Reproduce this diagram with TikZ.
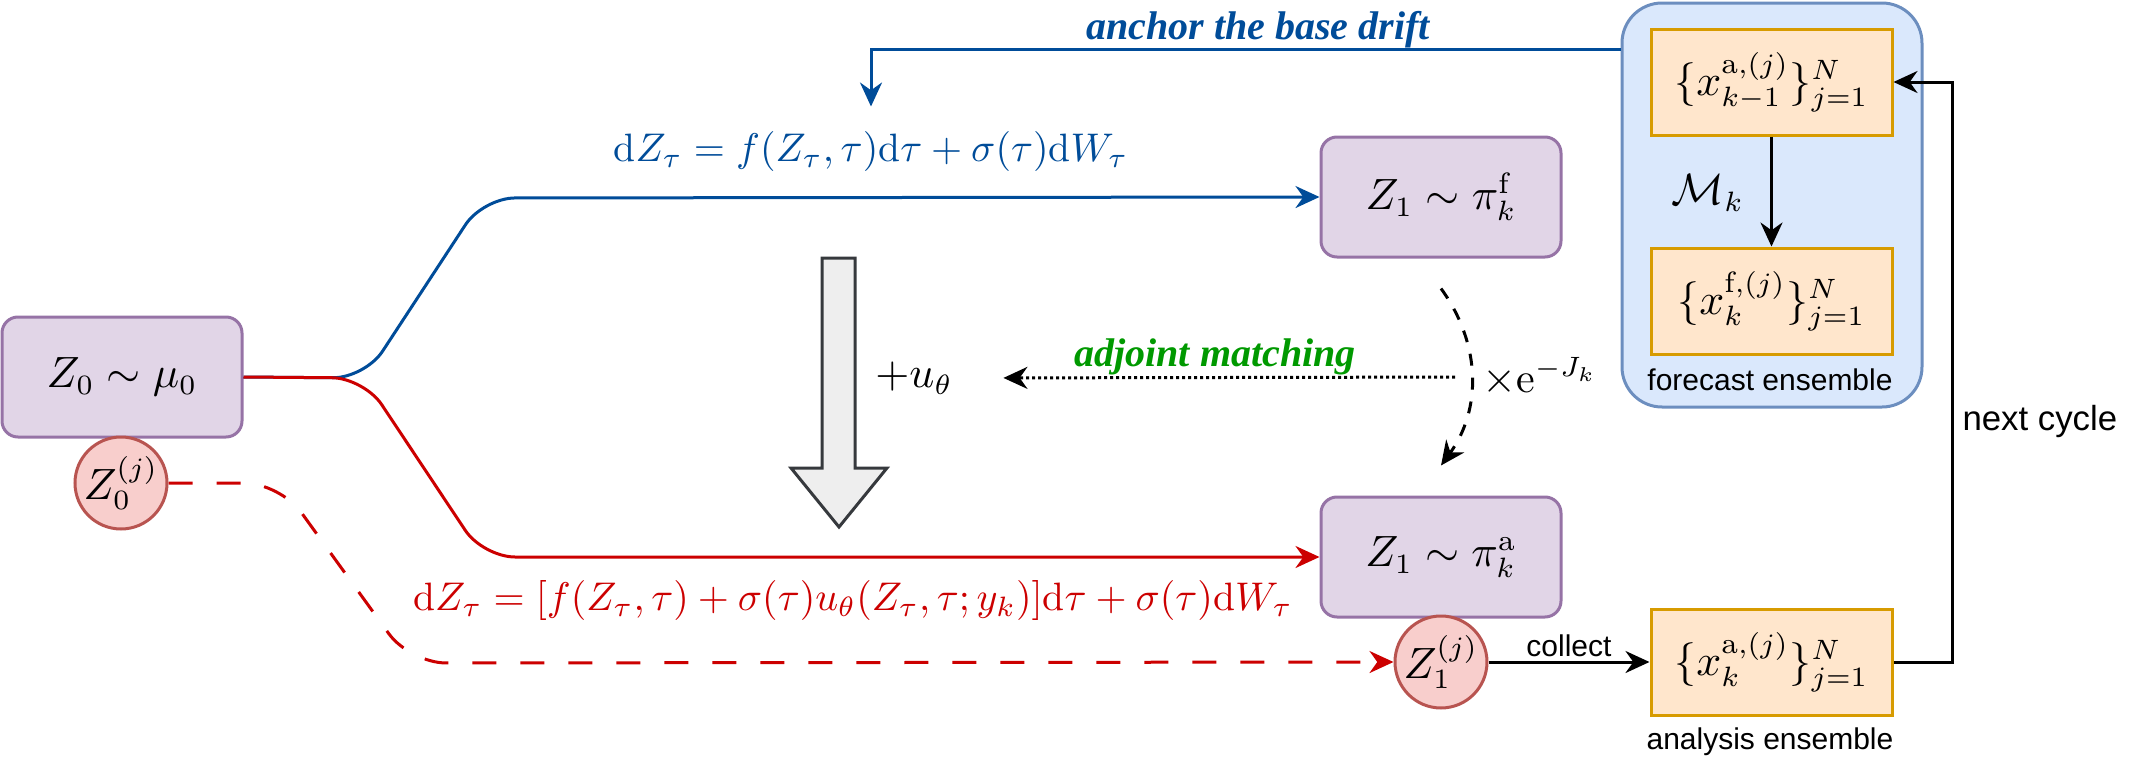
\documentclass[tikz,border=0pt]{standalone}
\usepackage{amsmath}
\usepackage{amssymb}
\usepackage{fontspec}
\newfontfamily\labelsans{Liberation Sans}
\newfontfamily\labelserif{Liberation Serif}
\usetikzlibrary{arrows.meta}

\definecolor{purpfill}{HTML}{E1D5E7}
\definecolor{purpdraw}{HTML}{9673A6}
\definecolor{pinkfill}{HTML}{F8CECC}
\definecolor{pinkdraw}{HTML}{B85450}
\definecolor{ensfill}{HTML}{FFE6CC}
\definecolor{ensdraw}{HTML}{D79B00}
\definecolor{fcstfill}{HTML}{DAE8FC}
\definecolor{fcstdraw}{HTML}{6C8EBF}
\definecolor{sdeblue}{HTML}{004C99}
\definecolor{sdered}{HTML}{CC0000}
\definecolor{adjgreen}{HTML}{009900}
\definecolor{bigfill}{HTML}{EEEEEE}
\definecolor{bigdraw}{HTML}{36393D}

\tikzset{
  mathfont/.style={font=\fontsize{10.5}{12}\selectfont},
  eqfont/.style={font=\fontsize{9.9}{12}\selectfont, inner sep=0pt},
  distbox/.style={mathfont, draw=purpdraw, fill=purpfill, rounded corners=4pt,
    minimum width=60pt, minimum height=30pt},
  particle/.style={mathfont, circle, draw=pinkdraw, fill=pinkfill,
    minimum size=23pt, inner sep=0pt},
  ensbox/.style={mathfont, draw=ensdraw, fill=ensfill,
    minimum width=60.25pt, minimum height=26.5pt},
  tip/.style={-{Stealth[length=6pt,width=5.5pt]}},
  sanslabel/.style={font=\labelsans\fontsize{7.5}{9}\selectfont},
  bilabel/.style={font=\labelserif\bfseries\itshape\fontsize{10}{12}\selectfont},
}

\begin{document}
\begin{tikzpicture}[x=0.25pt, y=-0.25pt, line width=0.75pt]
    \useasboundingbox (0,0) rectangle (2135,771);

    % forecast ensemble container
    \node (fcst) [draw=fcstdraw, fill=fcstfill, rounded corners=10pt,
        minimum width=75pt, minimum height=101pt] at (1772,205) {};
    \node (xprev) [ensbox] at (1771.5,82) {$\{x^{\mathrm{a},(j)}_{k-1}\}_{j=1}^{N}$};
    \node (xfore) [ensbox] at (1771.5,301) {$\{x^{\mathrm{f},(j)}_{k}\}_{j=1}^{N}$};
    \node (fcstlbl) [sanslabel] at (1770,380) {forecast ensemble};
    \draw[tip] (xprev) -- (xfore);
    \node (mk) [mathfont] at (1708,193) {$\mathcal{M}_k$};

    % analysis ensemble
    \node (xana) [ensbox] at (1771.5,662) {$\{x^{\mathrm{a},(j)}_{k}\}_{j=1}^{N}$};
    \node (analbl) [sanslabel] at (1770,742) {analysis ensemble};

    % distributions
    \node (z0) [distbox] at (122,377) {$Z_0\sim\mu_0$};
    \node (z1f) [distbox] at (1441,197) {$Z_1\sim\pi^{\mathrm{f}}_k$};
    \node (z1a) [distbox] at (1441,557) {$Z_1\sim\pi^{\mathrm{a}}_k$};

    % particles
    \node (z0j) [particle] at (121,483) {$Z_0^{(j)}$};
    \node (z1j) [particle] at (1441,662) {$Z_1^{(j)}$};

    % base and controlled SDE
    \draw[sdeblue, rounded corners=8pt, tip] (z0.east) -- (365,378) -- (483,198) -- (z1f.west);
    \draw[sdered, rounded corners=8pt, tip] (z0.east) -- (364,378) -- (483,557) -- (z1a.west);
    \node (eqbase) [eqfont, text=sdeblue] at (871,152)
        {$\mathrm{d}Z_\tau = f(Z_\tau,\tau)\mathrm{d}\tau + \sigma(\tau)\mathrm{d}W_\tau$};
    \node (eqctrl) [eqfont, text=sdered] at (853,600)
        {$\mathrm{d}Z_\tau = [f(Z_\tau,\tau) + \sigma(\tau)u_\theta(Z_\tau,\tau;y_k)]\mathrm{d}\tau + \sigma(\tau)\mathrm{d}W_\tau$};

    % anchor the base drift
    \draw[sdeblue, tip] ([yshift=-12pt]fcst.north west) -| ([yshift=6pt]eqbase.north);
    \node (anchorlbl) [bilabel, text=sdeblue] at (1258,30) {anchor the base drift};

    % big control arrow
    \draw[draw=bigdraw, fill=bigfill] (822,258) -- (855,258) -- (855,468) -- (887,468)
        -- (839,527) -- (791,468) -- (822,468) -- cycle;
    \node (uplus) [mathfont] at (914,378) {$+u_\theta$};

    % reweighting and adjoint matching
    \draw[dashed, tip] ([yshift=-7.5pt]z1f.south) to[bend left=36] ([yshift=7.5pt]z1a.north);
    \node (weight) [mathfont, anchor=west, inner sep=0pt] at (1481,377) {$\times\mathrm{e}^{-J_k}$};
    \draw[dash pattern=on 0.75pt off 0.75pt, tip, shorten <=6.5pt, shorten >=9pt]
        (weight.west) -- (uplus.east);
    \node (adjlbl) [bilabel, text=adjgreen] at (1215,357) {adjoint matching};

    % particle path
    \draw[sdered, dash pattern=on 6pt off 6pt, rounded corners=9pt, tip]
        (z0j.east) -- (280,483) -- (410,663) -- (z1j.west);
    \draw[tip] (z1j) -- (xana) node[midway, above, inner sep=1pt, sanslabel] (collbl) {collect};

    % next cycle
    \coordinate (cycturn) at (1952,370);
    \draw[tip] (xana.east) -| (cycturn) |- (xprev.east);
    \node (cyclbl) [anchor=west, inner sep=0pt, font=\labelsans\fontsize{8.7}{10}\selectfont]
        at (1961,422) {next cycle};
\end{tikzpicture}
\end{document}
